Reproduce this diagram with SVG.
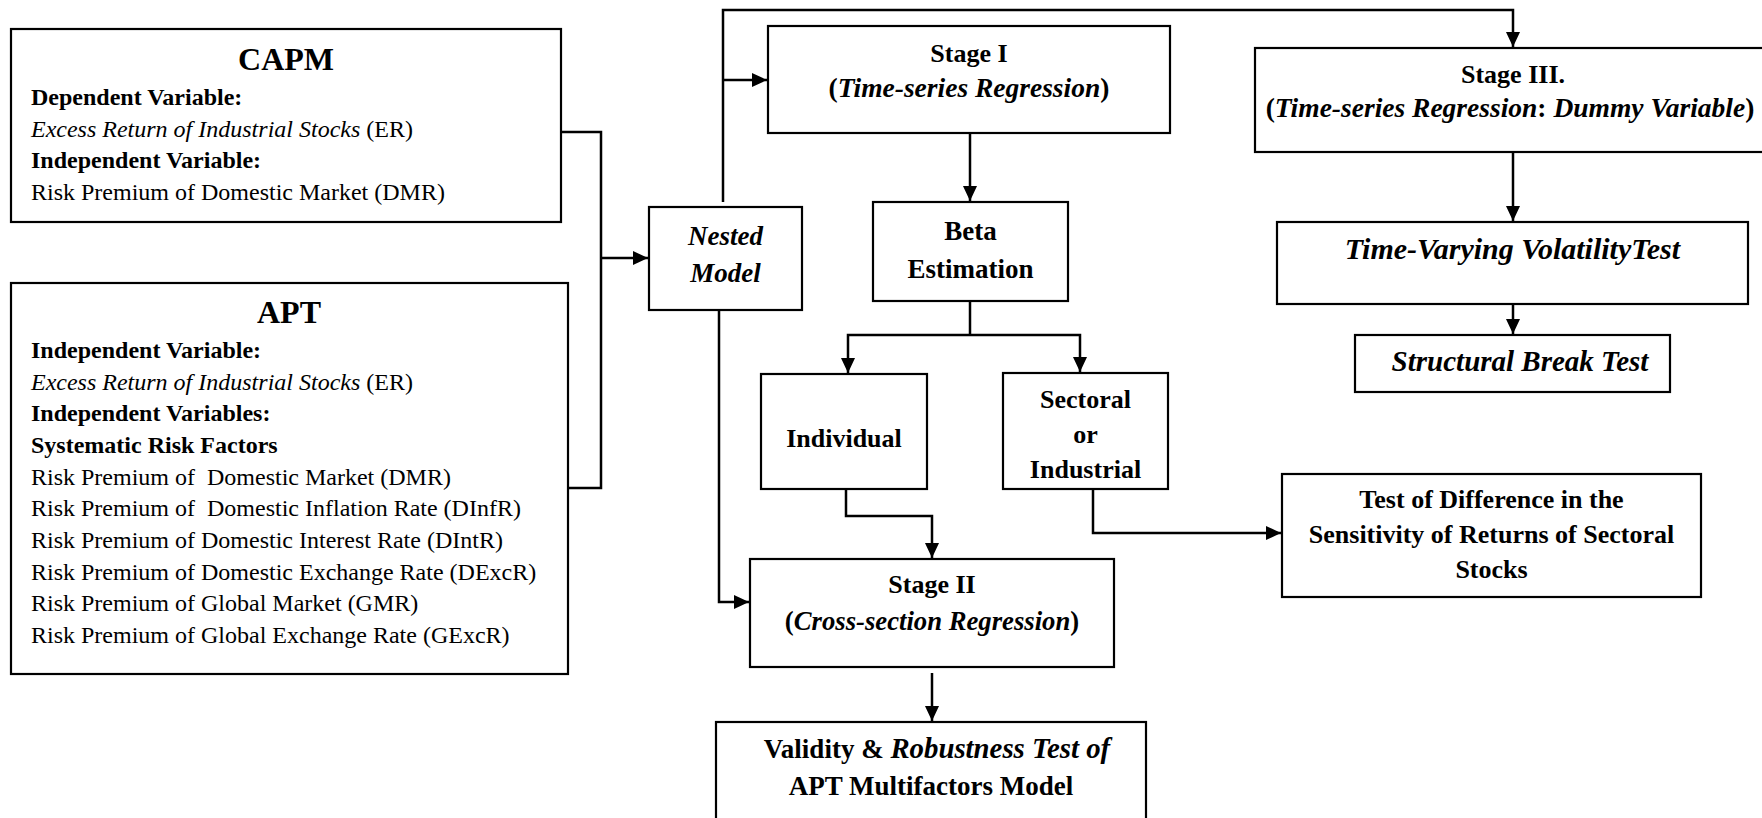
<svg xmlns="http://www.w3.org/2000/svg" width="1762" height="818" viewBox="0 0 1762 818">
<defs>
<marker id="ah" markerUnits="userSpaceOnUse" markerWidth="16" markerHeight="15" refX="15" refY="7" orient="auto">
<path d="M0,0 L15,7 L0,14 z" fill="#000"/>
</marker>
<style>
.box{fill:#fff;stroke:#000;stroke-width:2.2}
.ln{fill:none;stroke:#000;stroke-width:2.5}
.ar{fill:none;stroke:#000;stroke-width:2.5;marker-end:url(#ah)}
text{font-family:"Liberation Serif","Times New Roman",serif;fill:#000}
.body{font-size:24px}
.b{font-weight:bold}
.i{font-style:italic}
.title{font-size:32px;font-weight:bold}
.lbl{font-size:26px;font-weight:bold;text-anchor:middle}
.lbl2{font-size:27px;font-weight:bold;text-anchor:middle}
.big{font-size:27.5px}
</style>
</defs>
<rect width="1762" height="818" fill="#fff"/>

<g id="capm">
<rect class="box" x="11" y="29" width="550" height="193"/>
<text class="title" x="286" y="70" text-anchor="middle">CAPM</text>
<text class="body b" x="31" y="105">Dependent Variable:</text>
<text class="body" x="31" y="137"><tspan class="i">Excess Return of Industrial Stocks</tspan> (ER)</text>
<text class="body b" x="31" y="168">Independent Variable:</text>
<text class="body" x="31" y="200">Risk Premium of Domestic Market (DMR)</text>
</g>

<g id="apt">
<rect class="box" x="11" y="283" width="557" height="391"/>
<text class="title" x="289" y="323" text-anchor="middle">APT</text>
<text class="body b" x="31" y="358">Independent Variable:</text>
<text class="body" x="31" y="390"><tspan class="i">Excess Return of Industrial Stocks</tspan> (ER)</text>
<text class="body b" x="31" y="421">Independent Variables:</text>
<text class="body b" x="31" y="453">Systematic Risk Factors</text>
<text class="body" x="31" y="485" xml:space="preserve">Risk Premium of  Domestic Market (DMR)</text>
<text class="body" x="31" y="516" xml:space="preserve">Risk Premium of  Domestic Inflation Rate (DInfR)</text>
<text class="body" x="31" y="548">Risk Premium of Domestic Interest Rate (DIntR)</text>
<text class="body" x="31" y="580">Risk Premium of Domestic Exchange Rate (DExcR)</text>
<text class="body" x="31" y="611">Risk Premium of Global Market (GMR)</text>
<text class="body" x="31" y="643">Risk Premium of Global Exchange Rate (GExcR)</text>
</g>

<g id="nested">
<rect class="box" x="649" y="207" width="153" height="103"/>
<text class="lbl2 i" x="725.5" y="245">Nested</text>
<text class="lbl2 i" x="725.5" y="282">Model</text>
</g>

<g id="stage1">
<rect class="box" x="768" y="26" width="402" height="107"/>
<text class="lbl" x="969" y="62">Stage I</text>
<text class="lbl big" x="969" y="97">(<tspan class="i">Time-series Regression</tspan>)</text>
</g>

<g id="beta">
<rect class="box" x="873" y="202" width="195" height="99"/>
<text class="lbl2" x="970.5" y="240">Beta</text>
<text class="lbl2" x="970.5" y="278">Estimation</text>
</g>

<g id="individual">
<rect class="box" x="761" y="374" width="166" height="115"/>
<text class="lbl" x="844" y="447">Individual</text>
</g>

<g id="sectoral">
<rect class="box" x="1003" y="373" width="165" height="116"/>
<text class="lbl" x="1085.5" y="408">Sectoral</text>
<text class="lbl" x="1085.5" y="443">or</text>
<text class="lbl" x="1085.5" y="478">Industrial</text>
</g>

<g id="stage2">
<rect class="box" x="750" y="559" width="364" height="108"/>
<text class="lbl" x="932" y="593">Stage II</text>
<text class="lbl" x="932" y="630" style="font-size:26.7px">(<tspan class="i">Cross-section Regression</tspan>)</text>
</g>

<g id="validity">
<rect class="box" x="716" y="722" width="430" height="110"/>
<text class="lbl" x="937" y="758" style="font-size:27px">Validity &amp; <tspan class="i" style="font-size:28.8px">Robustness Test of</tspan></text>
<text class="lbl" x="931" y="795" style="font-size:27px">APT Multifactors Model</text>
</g>

<g id="stage3">
<rect class="box" x="1255" y="48" width="516" height="104"/>
<text class="lbl" x="1513" y="83">Stage III.</text>
<text class="lbl big" x="1510" y="117">(<tspan class="i">Time-series Regression</tspan>: <tspan class="i">Dummy Variable</tspan>)</text>
</g>

<g id="volatility">
<rect class="box" x="1277" y="222" width="471" height="82"/>
<text class="lbl i" x="1512.5" y="259" style="font-size:30px">Time-Varying VolatilityTest</text>
</g>

<g id="structural">
<rect class="box" x="1355" y="335" width="315" height="57"/>
<text class="lbl i" x="1520" y="371" style="font-size:29px">Structural Break Test</text>
</g>

<g id="testdiff">
<rect class="box" x="1282" y="474" width="419" height="123"/>
<text class="lbl" x="1491.5" y="508">Test of Difference in the</text>
<text class="lbl" x="1491.5" y="543">Sensitivity of Returns of Sectoral</text>
<text class="lbl" x="1491.5" y="578">Stocks</text>
</g>

<g id="connectors">
<path class="ln" d="M561 132 H601 V488 H568"/>
<path class="ar" d="M601 258 H648"/>
<path class="ar" d="M723 202 V10 H1513 V47"/>
<path class="ar" d="M723 80 H767"/>
<path class="ar" d="M970 133 V201"/>
<path class="ln" d="M970 301 V335"/>
<path class="ar" d="M970 335 H848 V373"/>
<path class="ar" d="M970 335 H1080 V372"/>
<path class="ar" d="M846 489 V516 H932 V558"/>
<path class="ar" d="M1093 489 V533 H1281"/>
<path class="ar" d="M719 310 V602 H749"/>
<path class="ar" d="M932 673 V721"/>
<path class="ar" d="M1513 152 V221"/>
<path class="ar" d="M1513 304 V334"/>
</g>
</svg>
